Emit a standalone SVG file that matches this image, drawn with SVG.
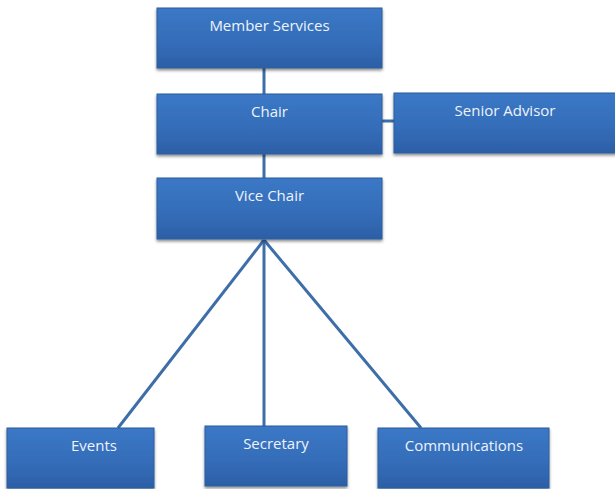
<svg xmlns="http://www.w3.org/2000/svg" width="615" height="489" viewBox="0 0 615 489">
<defs>
<linearGradient id="g" x1="0" y1="0" x2="0" y2="1">
<stop offset="0" stop-color="#3b78c6"/>
<stop offset="0.6" stop-color="#346cb8"/>
<stop offset="1" stop-color="#2c5fa6"/>
</linearGradient>
<filter id="sh" x="-5%" y="-5%" width="115%" height="130%">
<feGaussianBlur in="SourceAlpha" stdDeviation="1.5"/>
<feOffset dx="0" dy="2"/>
<feComponentTransfer><feFuncA type="linear" slope="0.45"/></feComponentTransfer>
<feMerge><feMergeNode/><feMergeNode in="SourceGraphic"/></feMerge>
</filter>
</defs>
<style>
.box{fill:url(#g);stroke:#2d5f9e;stroke-width:1;filter:url(#sh)}
.lbl{font-family:"Open Sans","Liberation Sans",sans-serif;font-size:15px;fill:#eef3fa;text-anchor:middle}
.c{stroke:#3d6ea8;stroke-width:3;fill:none}
</style>
<rect width="615" height="489" fill="#ffffff"/>
<g id="connectors">
<line class="c" x1="264" y1="68" x2="264" y2="94"/>
<line class="c" x1="264" y1="154" x2="264" y2="178"/>
<line class="c" x1="382" y1="121" x2="394" y2="121"/>
<line class="c" x1="264" y1="240" x2="118" y2="428"/>
<line class="c" x1="264" y1="240" x2="264" y2="426"/>
<line class="c" x1="264" y1="240" x2="421" y2="428"/>
</g>
<g id="member-services">
<rect class="box" x="157" y="8" width="225" height="60"/>
<text class="lbl" x="269.5" y="31">Member Services</text>
</g>
<g id="chair">
<rect class="box" x="157" y="94" width="225" height="60"/>
<text class="lbl" x="269.5" y="117">Chair</text>
</g>
<g id="senior-advisor">
<rect class="box" x="394" y="93" width="222" height="60"/>
<text class="lbl" x="505" y="116">Senior Advisor</text>
</g>
<g id="vice-chair">
<rect class="box" x="157" y="178" width="225" height="61"/>
<text class="lbl" x="269.5" y="201">Vice Chair</text>
</g>
<g id="events">
<rect class="box" x="7" y="428" width="147" height="60"/>
<text class="lbl" x="94" y="451">Events</text>
</g>
<g id="secretary">
<rect class="box" x="205" y="426" width="142" height="60"/>
<text class="lbl" x="276" y="449">Secretary</text>
</g>
<g id="communications">
<rect class="box" x="378" y="428" width="171" height="60"/>
<text class="lbl" x="464" y="451">Communications</text>
</g>
</svg>
